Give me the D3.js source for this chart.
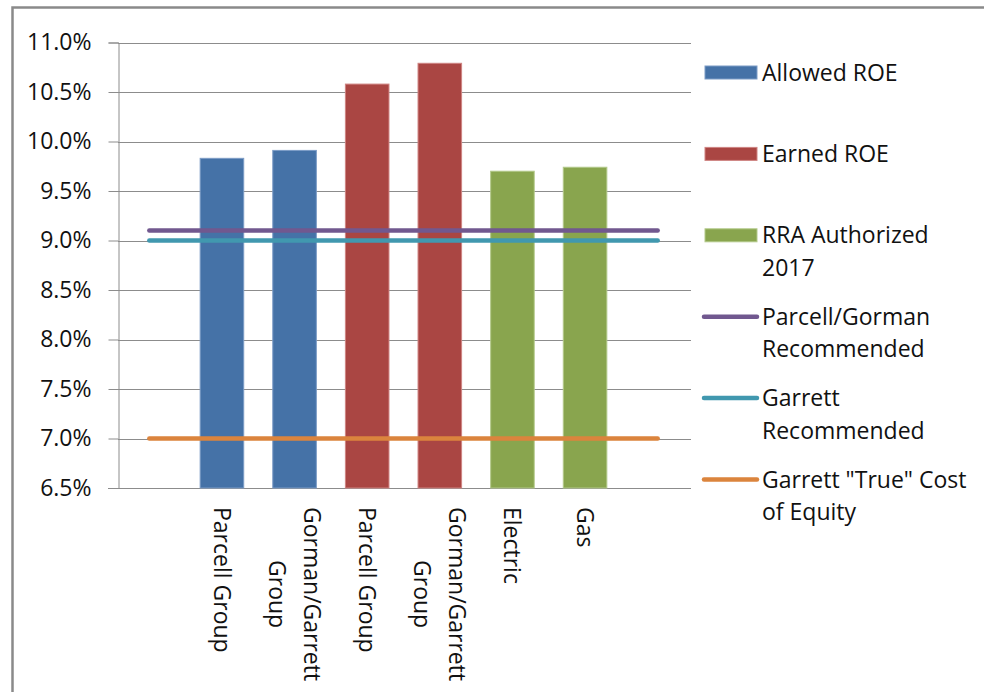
<!DOCTYPE html>
<html>
<head>
<meta charset="utf-8">
<script src="https://cdn.jsdelivr.net/npm/d3@7"></script>
<style>
  body { margin: 0; background: #fff; }
  text { font-family: "Open Sans", "Noto Sans", sans-serif; fill: #111; }
</style>
</head>
<body>
<div id="chart"></div>
<script>
// categories (first and last are empty slots)
var categories = ["", "Parcell Group", "Gorman/Garrett\nGroup", "Parcell Group", "Gorman/Garrett\nGroup", "Electric", "Gas", ""];

// bar series
var allowedROE = [null, 9.83, 9.91, null, null, null, null, null];
var earnedROE = [null, null, null, 10.58, 10.79, null, null, null];
var rraAuthorized = [null, null, null, null, null, 9.70, 9.74, null];

// line series
var parcellGormanRec = [9.1, 9.1, 9.1, 9.1, 9.1, 9.1, 9.1, 9.1];
var garrettRec = [9.0, 9.0, 9.0, 9.0, 9.0, 9.0, 9.0, 9.0];
var garrettTrue = [7.0, 7.0, 7.0, 7.0, 7.0, 7.0, 7.0, 7.0];

var yTicks = [6.5, 7.0, 7.5, 8.0, 8.5, 9.0, 9.5, 10.0, 10.5, 11.0];

var barSeries = [
    { name: ["Allowed ROE"], values: allowedROE, color: "#4572A7", edge: "#7c9cc6" },
    { name: ["Earned ROE"], values: earnedROE, color: "#AA4643", edge: "#cf8482" },
    { name: ["RRA Authorized", "2017"], values: rraAuthorized, color: "#89A54E", edge: "#b3c98a" }
];
var lineSeries = [
    { name: ["Parcell/Gorman", "Recommended"], values: parcellGormanRec, color: "#71588F" },
    { name: ["Garrett", "Recommended"], values: garrettRec, color: "#4198AF" },
    { name: ["Garrett \"True\" Cost", "of Equity"], values: garrettTrue, color: "#DB843D" }
];

var width = 984, height = 692;
var plot = { left: 118, right: 691, top: 42.5, bottom: 488 };
var fontSize = "23px";

var svg = d3.select("#chart")
    .append("svg")
    .attr("width", width)
    .attr("height", height);

// outer chart border (cut off on the right and bottom)
svg.append("rect")
    .attr("x", 12.5)
    .attr("y", 7.5)
    .attr("width", 1000)
    .attr("height", 700)
    .attr("fill", "none")
    .attr("stroke", "#8a8a8a")
    .attr("stroke-width", 2.5);

// Scales
var x = d3.scaleBand()
    .domain(d3.range(categories.length))
    .range([113, 694]);
var y = d3.scaleLinear()
    .domain([6.5, 11.0])
    .range([plot.bottom, plot.top]);

// gridlines
svg.append("g")
    .selectAll("line")
    .data(yTicks)
    .enter().append("line")
    .attr("x1", plot.left)
    .attr("x2", plot.right)
    .attr("y1", function(d){ return Math.round(y(d)) + 0.5; })
    .attr("y2", function(d){ return Math.round(y(d)) + 0.5; })
    .attr("stroke", "#8c8c8c")
    .attr("stroke-width", 1);

// Y-axis
var yAxisCall = d3.axisLeft(y)
    .tickValues(yTicks)
    .tickSize(10)
    .tickPadding(17)
    .tickFormat(function(d){ return d.toFixed(1) + "%"; });
var yAxis = svg.append("g")
    .attr("transform", "translate(" + (plot.left + 0.5) + ",0)")
    .call(yAxisCall);
yAxis.select(".domain").attr("stroke", "#8c8c8c");
yAxis.selectAll(".tick line").attr("stroke", "#8c8c8c");
yAxis.selectAll(".tick text")
    .attr("font-size", fontSize)
    .attr("fill", "#111")
    .style("font-family", "'Open Sans', sans-serif");

// bottom axis line
svg.append("line")
    .attr("x1", plot.left - 10)
    .attr("x2", plot.right)
    .attr("y1", plot.bottom + 0.5)
    .attr("y2", plot.bottom + 0.5)
    .attr("stroke", "#8c8c8c");

// Bars
var barW = x.bandwidth() * 0.6;
barSeries.forEach(function(s){
    svg.append("g")
        .selectAll("rect")
        .data(s.values.map(function(v, i){ return { i: i, v: v }; }).filter(function(d){ return d.v !== null; }))
        .enter().append("rect")
        .attr("x", function(d){ return x(d.i) + (x.bandwidth() - barW) / 2; })
        .attr("y", function(d){ return y(d.v); })
        .attr("width", barW)
        .attr("height", function(d){ return y(6.5) - y(d.v); })
        .attr("fill", s.color)
        .attr("stroke", s.edge)
        .attr("stroke-width", 1);
});

// Lines
var line = d3.line()
    .x(function(d, i){ return x(i) + x.bandwidth() / 2; })
    .y(function(d){ return y(d); });
lineSeries.forEach(function(s){
    svg.append("path")
        .attr("d", line(s.values))
        .attr("fill", "none")
        .attr("stroke", s.color)
        .attr("stroke-width", 4.5)
        .attr("stroke-linecap", "round");
});

// Category labels, rotated, top-aligned; multi-line blocks centred per line
var labelTop = 507, lineGap = 35;
categories.forEach(function(c, i){
    if (!c) return;
    var lines = c.split("\n");
    var g = svg.append("g")
        .attr("transform", "translate(" + (x(i) + x.bandwidth() / 2) + "," + labelTop + ") rotate(90)");
    var texts = lines.map(function(l, k){
        return g.append("text")
            .attr("font-size", fontSize)
            .attr("dy", "0.35em")
            .attr("y", (k - (lines.length - 1) / 2) * lineGap)
            .text(l);
    });
    var maxW = d3.max(texts, function(t){ return t.node().getComputedTextLength(); });
    texts.forEach(function(t){
        t.attr("x", maxW / 2).attr("text-anchor", "middle");
    });
});

// Legend
var legendItems = barSeries.map(function(s){ return { type: "bar", s: s }; })
    .concat(lineSeries.map(function(s){ return { type: "line", s: s }; }));
var legend = svg.append("g");
legendItems.forEach(function(item, k){
    var cy = 72.5 + k * 81.4;
    var g = legend.append("g").attr("transform", "translate(0," + cy + ")");
    if (item.type === "bar") {
        g.append("rect")
            .attr("x", 705)
            .attr("y", -6.5)
            .attr("width", 52)
            .attr("height", 13)
            .attr("fill", item.s.color)
            .attr("stroke", item.s.edge);
    } else {
        g.append("line")
            .attr("x1", 704)
            .attr("x2", 757)
            .attr("y1", 0)
            .attr("y2", 0)
            .attr("stroke", item.s.color)
            .attr("stroke-width", 4.5)
            .attr("stroke-linecap", "round");
    }
    item.s.name.forEach(function(n, j){
        g.append("text")
            .attr("x", 762)
            .attr("y", 8 + j * 32.5)
            .attr("font-size", fontSize)
            .text(n);
    });
});
</script>
</body>
</html>
